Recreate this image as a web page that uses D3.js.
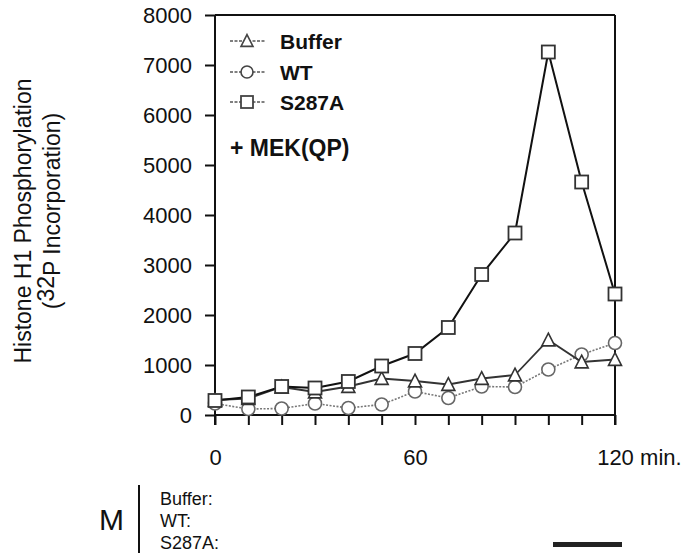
<!DOCTYPE html>
<html>
<head>
<meta charset="utf-8">
<script src="https://cdn.jsdelivr.net/npm/d3@7"></script>
<style>
  body { margin: 0; background: #fff; }
  svg { display: block; font-family: "Liberation Sans", Arial, Helvetica, sans-serif; }
</style>
</head>
<body>
<div id="graph-container"></div>
<script>
// data
var minutes = [0, 10, 20, 30, 40, 50, 60, 70, 80, 90, 100, 110, 120];
var buffer_vals = [300, 330, 560, 460, 570, 730, 680, 610, 730, 800, 1500, 1060, 1110];
var wt_vals     = [230, 120, 130, 230, 140, 210, 470, 340, 570, 560, 910, 1210, 1440];
var s287a_vals  = [290, 360, 570, 540, 670, 980, 1230, 1750, 2810, 3640, 7260, 4660, 2420];
var y_ticks = [0, 1000, 2000, 3000, 4000, 5000, 6000, 7000, 8000];
var x_ticks = [0, 10, 20, 30, 40, 50, 60, 70, 80, 90, 100, 110, 120];
var x_labels = [0, 60, 120];
var series_names = ['Buffer', 'WT', 'S287A'];
var gel_rows = ['Buffer:', 'WT:', 'S287A:'];

var W = 688, H = 553;
var svg = d3.select('#graph-container').append('svg').attr('width', W).attr('height', H);

var x = d3.scaleLinear().domain([0, 120]).range([215, 615]);
var y = d3.scaleLinear().domain([0, 8000]).range([415, 15]);

// ---- axes ----
var yAxis = d3.axisLeft(y).tickValues(y_ticks).tickSize(10).tickPadding(13).tickSizeOuter(0)
              .tickFormat(d3.format('d'));
var gy = svg.append('g').attr('transform', 'translate(215,0)').call(yAxis);
gy.select('.domain').remove();
gy.selectAll('text').attr('font-size', 22).attr('fill', '#111').attr('font-family', null);
gy.selectAll('line').attr('stroke', '#111').attr('stroke-width', 2);

var xAxis = d3.axisBottom(x).tickValues(x_ticks).tickSize(10).tickPadding(24).tickSizeOuter(0)
              .tickFormat(d => x_labels.includes(d) ? d : '');
var gx = svg.append('g').attr('transform', 'translate(0,415)').call(xAxis);
gx.select('.domain').remove();
gx.selectAll('text').attr('font-size', 22).attr('fill', '#111').attr('font-family', null);
gx.selectAll('line').attr('stroke', '#111').attr('stroke-width', 2);

svg.append('text').attr('x', x(120) + 19).attr('y', 465).attr('font-size', 22).attr('fill', '#111')
   .text(' min.').attr('xml:space', 'preserve');

// frame
var frame = svg.append('g').attr('fill', 'none').attr('stroke', '#111').attr('stroke-width', 2);
frame.append('line').attr('x1', x(0)).attr('x2', x(0)).attr('y1', y(8000)).attr('y2', 425);
frame.append('line').attr('x1', x(120)).attr('x2', x(120)).attr('y1', y(8000)).attr('y2', 425);
frame.append('line').attr('x1', x(0)).attr('x2', x(120)).attr('y1', y(8000)).attr('y2', y(8000));
frame.append('line').attr('x1', x(0)).attr('x2', x(120)).attr('y1', y(0)).attr('y2', y(0));

// ---- series ----
var series = [
  {name: 'WT', vals: wt_vals, stroke: '#777', width: 1.6, dash: '2,1.5', shape: 'circle'},
  {name: 'Buffer', vals: buffer_vals, stroke: '#333', width: 1.8, dash: null, shape: 'triangle'},
  {name: 'S287A', vals: s287a_vals, stroke: '#111', width: 2, dash: null, shape: 'square'}
];

function marker(g, shape, cx, cy, s, stroke) {
  if (shape === 'circle') {
    g.append('circle').attr('cx', cx).attr('cy', cy).attr('r', s / 2)
     .attr('fill', '#fff').attr('stroke', stroke).attr('stroke-width', 1.6);
  } else if (shape === 'square') {
    g.append('rect').attr('x', cx - s / 2).attr('y', cy - s / 2).attr('width', s).attr('height', s)
     .attr('fill', '#fff').attr('stroke', stroke).attr('stroke-width', 1.8);
  } else {
    var h = s * 0.9;
    g.append('path').attr('d', `M${cx},${cy - h / 2 - 1}L${cx + s / 2},${cy + h / 2}L${cx - s / 2},${cy + h / 2}Z`)
     .attr('fill', '#fff').attr('stroke', stroke).attr('stroke-width', 1.6);
  }
}

var line = d3.line().x((d, i) => x(minutes[i])).y(d => y(d));

series.forEach(s => {
  var g = svg.append('g');
  g.append('path').attr('d', line(s.vals)).attr('fill', 'none')
   .attr('stroke', s.stroke).attr('stroke-width', s.width).attr('stroke-dasharray', s.dash);
  s.vals.forEach((v, i) => marker(g, s.shape, x(minutes[i]), y(v), 13, s.stroke === '#777' ? '#666' : '#333'));
});

// ---- legend ----
var legend = svg.append('g');
var legend_shapes = {Buffer: 'triangle', WT: 'circle', S287A: 'square'};
var legend_y = [41, 72, 102];
series_names.forEach((n, i) => {
  var ly = legend_y[i];
  legend.append('line').attr('x1', 230).attr('x2', 265).attr('y1', ly).attr('y2', ly)
        .attr('stroke', '#555').attr('stroke-width', 1.5).attr('stroke-dasharray', '3,1.5');
  marker(legend, legend_shapes[n], 247, ly, 12, '#444');
  legend.append('text').attr('x', 280).attr('y', ly + 7.5).attr('font-size', 21)
        .attr('font-weight', 'bold').attr('fill', '#111').text(n);
});
legend.append('text').attr('x', 230).attr('y', 156).attr('font-size', 23)
      .attr('font-weight', 'bold').attr('fill', '#111').text('+ MEK(QP)');

// ---- y title ----
var yt = svg.append('g').attr('fill', '#111').attr('font-size', 23).attr('text-anchor', 'middle');
yt.append('text').attr('transform', 'translate(31,221) rotate(-90)').text('Histone H1 Phosphorylation');
var t2 = yt.append('text').attr('transform', 'translate(60,211) rotate(-90)');
t2.append('tspan').text('(');
t2.append('tspan').attr('dy', -6).text('32');
t2.append('tspan').attr('dy', 6).text('P Incorporation)');

// ---- gel lane labels ----
svg.append('text').attr('x', 99).attr('y', 530).attr('font-size', 30).attr('fill', '#111').text('M');
svg.append('line').attr('x1', 139).attr('x2', 139).attr('y1', 485).attr('y2', 553)
   .attr('stroke', '#111').attr('stroke-width', 2);
var gel_y = [505, 527, 549];
gel_rows.forEach((t, i) => {
  svg.append('text').attr('x', 160).attr('y', gel_y[i]).attr('font-size', 18).attr('fill', '#111').text(t);
});
svg.append('rect').attr('x', 553).attr('y', 542).attr('width', 69).attr('height', 5).attr('fill', '#222');
</script>
</body>
</html>
